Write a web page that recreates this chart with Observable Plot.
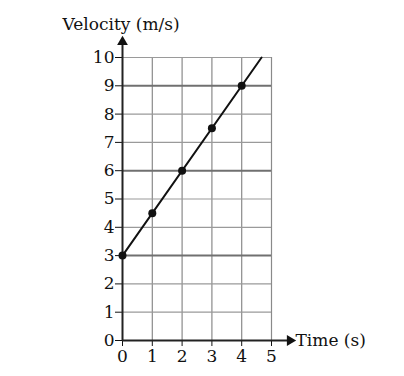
<!DOCTYPE html>
<html>
<head>
<meta charset="utf-8">
<script src="https://cdn.jsdelivr.net/npm/d3@7"></script>
<script src="https://cdn.jsdelivr.net/npm/@observablehq/plot@0.6"></script>
<style>
  html, body { margin: 0; padding: 0; background: #fff; }
  #chart svg { display: block; }
</style>
</head>
<body>
<div id="chart"></div>
<script>
// Data
const times = [0, 1, 2, 3, 4];
const velocities = [3, 4.5, 6, 7.5, 9];
const xTicks = [0, 1, 2, 3, 4, 5];
const yTicks = [0, 1, 2, 3, 4, 5, 6, 7, 8, 9, 10];
const majorYGrid = [3, 6, 9];
const minorYGrid = [1, 2, 4, 5, 7, 8, 10];
const xGrid = [1, 2, 3, 4, 5];
const yTitle = "Velocity (m/s)";
const xTitle = "Time (s)";

const points = times.map((t, i) => ({t, v: velocities[i]}));
// straight line through the points, extended until velocity reaches 10
const slope = (velocities[4] - velocities[0]) / (times[4] - times[0]);
const tEnd = (10 - velocities[0]) / slope;
const linePts = [{t: times[0], v: velocities[0]}, {t: tEnd, v: 10}];

const font = "DejaVu Serif";

const chart = Plot.plot({
  width: 404,
  height: 376,
  marginLeft: 122,
  marginRight: 133,
  marginTop: 57,
  marginBottom: 36,
  style: {fontFamily: font, fontSize: "17px", color: "#111", background: "#fff"},
  x: {domain: [0, 5]},
  y: {domain: [0, 10]},
  marks: [
    Plot.ruleX(xGrid, {y1: 0, y2: 10, stroke: "#8a8a8a", strokeWidth: 1.2}),
    Plot.ruleY(minorYGrid, {x1: 0, x2: 5, stroke: "#9a9a9a", strokeWidth: 1.2}),
    Plot.ruleY(majorYGrid, {x1: 0, x2: 5, stroke: "#707070", strokeWidth: 2}),
    Plot.axisX({ticks: xTicks, tickSize: 6, tickPadding: 3, label: null, tickFormat: d => d, fontSize: 17}),
    Plot.axisY({ticks: yTicks, tickSize: 7, tickPadding: 1, label: null, tickFormat: d => d, fontSize: 17}),
    // axis lines with arrowheads
    Plot.ruleX([0], {y1: 0, y2: 10.5, stroke: "#222", strokeWidth: 2}),
    Plot.ruleY([0], {x1: 0, x2: 5.6, stroke: "#222", strokeWidth: 2}),
    Plot.dot([{t: 0, v: 10.55}], {x: "t", y: "v", symbol: "triangle", r: 4, fill: "#111", stroke: "none"}),
    Plot.dot([{t: 5.62, v: 0}], {x: "t", y: "v", symbol: "triangle", rotate: 90, r: 4, fill: "#111", stroke: "none"}),
    // data line and points
    Plot.line(linePts, {x: "t", y: "v", stroke: "#111", strokeWidth: 2}),
    Plot.dot(points, {x: "t", y: "v", r: 4, fill: "#111", stroke: "none"}),
    // titles
    Plot.text([yTitle], {frameAnchor: "top-left", textAnchor: "start", dx: -60, dy: -40, fontSize: 17, fill: "#111"}),
    Plot.text([xTitle], {frameAnchor: "bottom-right", textAnchor: "start", dx: 24, dy: 0, lineAnchor: "middle", fontSize: 17, fill: "#111"})
  ]
});
document.getElementById("chart").appendChild(chart);
</script>
</body>
</html>
